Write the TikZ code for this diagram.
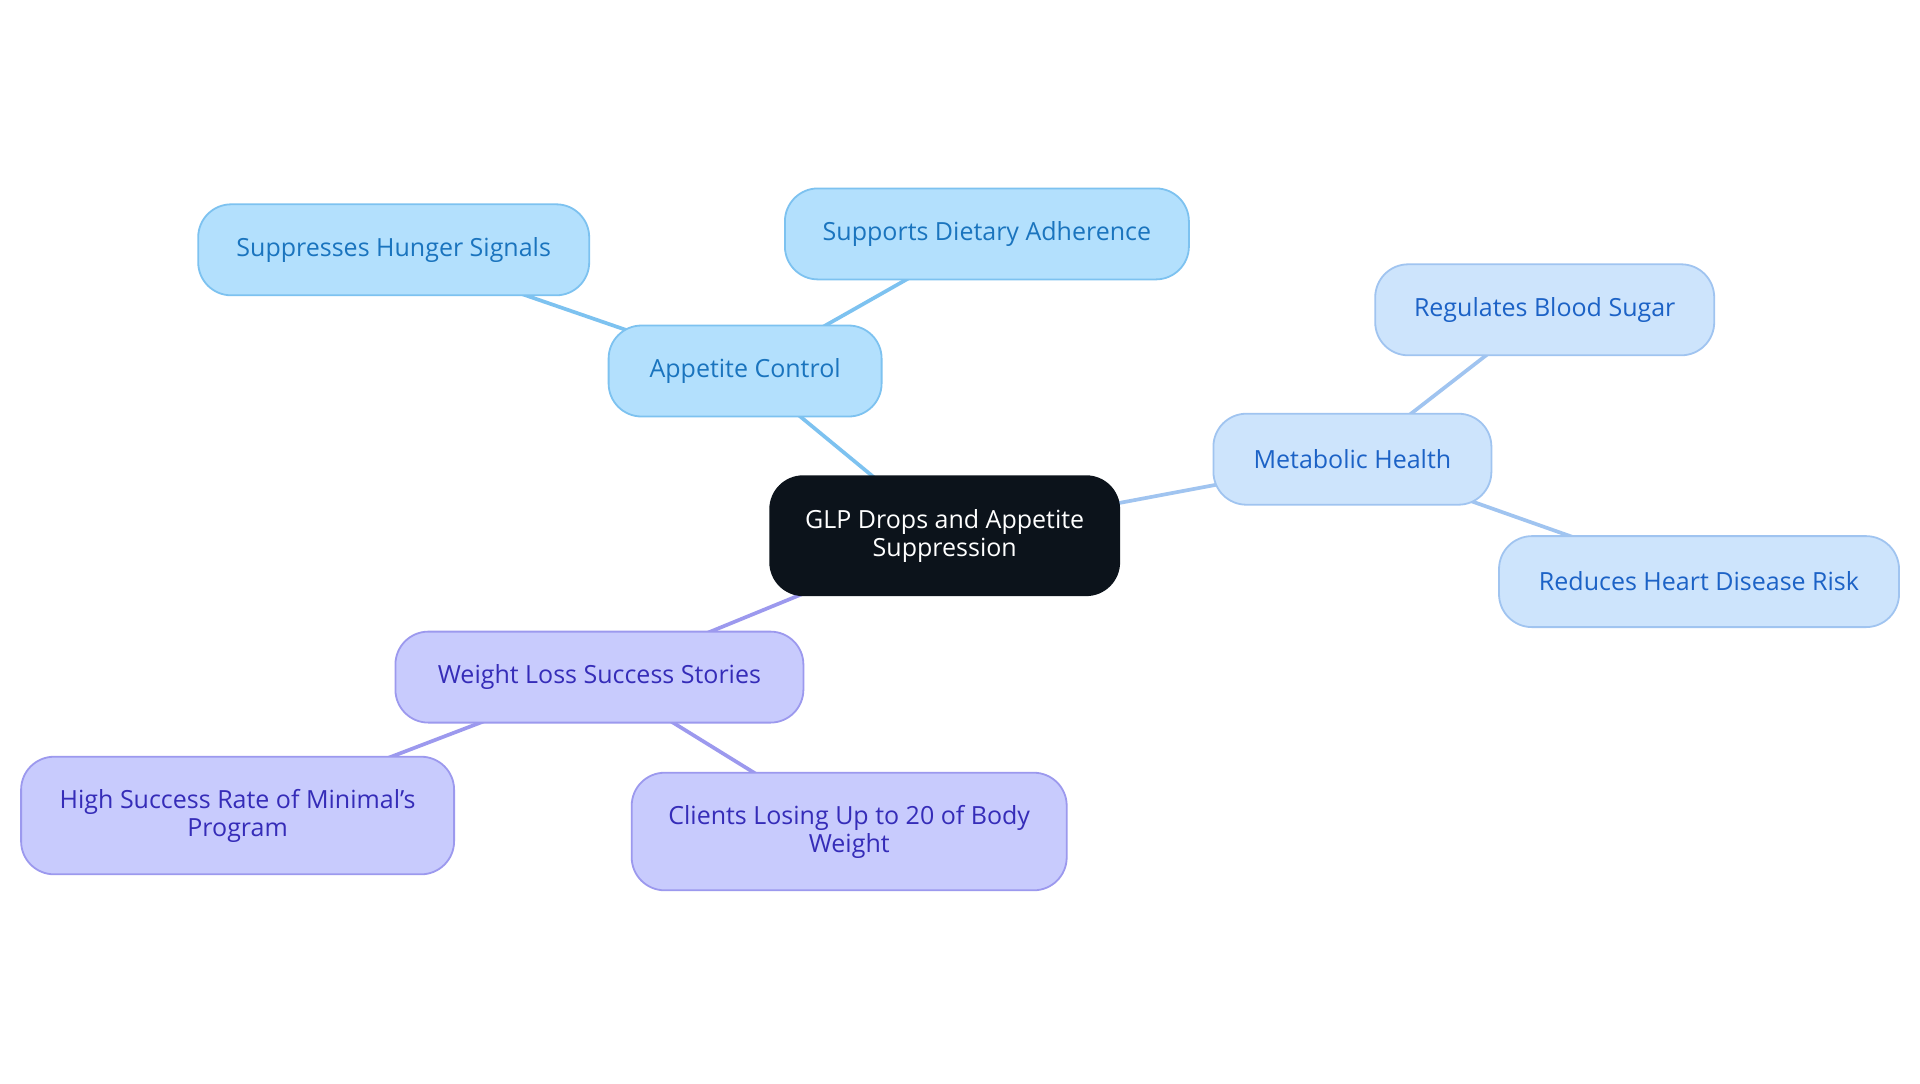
\documentclass[tikz,border=0pt]{standalone}
\usepackage{fontspec}
\setmainfont{Open Sans}
\usetikzlibrary{backgrounds}
\definecolor{cfill}{HTML}{0C131B}
\definecolor{afill}{HTML}{B3E0FD}
\definecolor{aline}{HTML}{7DC2F0}
\definecolor{atext}{HTML}{1A74BE}
\definecolor{mfill}{HTML}{CDE4FC}
\definecolor{mline}{HTML}{A0C4F0}
\definecolor{mtext}{HTML}{1C62C6}
\definecolor{wfill}{HTML}{C8CBFD}
\definecolor{wline}{HTML}{9C99EE}
\definecolor{wtext}{HTML}{352CB8}
\tikzset{
  box/.style={rounded corners=16.5pt, inner sep=0pt, align=center, line width=0.9pt,
    font=\fontsize{12.5}{14}\selectfont, minimum height=45.5pt},
  centerbox/.style={box, fill=cfill, draw=cfill, text=white, minimum height=59.5pt},
  abox/.style={box, fill=afill, draw=aline, text=atext},
  mbox/.style={box, fill=mfill, draw=mline, text=mtext},
  wbox/.style={box, fill=wfill, draw=wline, text=wtext},
  tallbox/.style={minimum height=58.8pt},
  aedge/.style={draw=aline, line width=1.85pt},
  medge/.style={draw=mline, line width=1.85pt},
  wedge/.style={draw=wline, line width=1.85pt},
}
\begin{document}
\begin{tikzpicture}[x=0.5pt, y=-0.5pt]
\useasboundingbox (0,0) rectangle (1920,1083);
\node[centerbox, minimum width=174.5pt] (glp) at (944.7,535.7) {GLP Drops and Appetite\\Suppression};
\node[abox, minimum width=136.5pt] (app) at (745.1,371.0) {Appetite Control};
\node[abox, minimum width=195.5pt] (sup) at (393.7,249.8) {Suppresses Hunger Signals};
\node[abox, minimum width=202pt] (diet) at (986.9,233.9) {Supports Dietary Adherence};
\node[mbox, minimum width=139pt] (met) at (1352.4,459.2) {Metabolic Health};
\node[mbox, minimum width=169.5pt] (reg) at (1544.7,309.8) {Regulates Blood Sugar};
\node[mbox, minimum width=200pt] (red) at (1699.0,581.6) {Reduces Heart Disease Risk};
\node[wbox, minimum width=204pt] (wls) at (599.4,677.1) {Weight Loss Success Stories};
\node[wbox, tallbox, minimum width=216.5pt] (high) at (237.6,815.5) {High Success Rate of Minimal's\\Program};
\node[wbox, tallbox, minimum width=217.5pt] (cli) at (849.2,831.5) {Clients Losing Up to 20 of Body\\Weight};
\begin{scope}[on background layer]
\fill[white] (0,0) rectangle (1920,1083);
\draw[aedge] (glp.center) -- (app.center);
\draw[aedge] (app.center) -- (sup.center);
\draw[aedge] (app.center) -- (diet.center);
\draw[medge] (glp.center) -- (met.center);
\draw[medge] (met.center) -- (reg.center);
\draw[medge] (met.center) -- (red.center);
\draw[wedge] (glp.center) -- (wls.center);
\draw[wedge] (wls.center) -- (high.center);
\draw[wedge] (wls.center) -- (cli.center);
\end{scope}
\end{tikzpicture}
\end{document}
